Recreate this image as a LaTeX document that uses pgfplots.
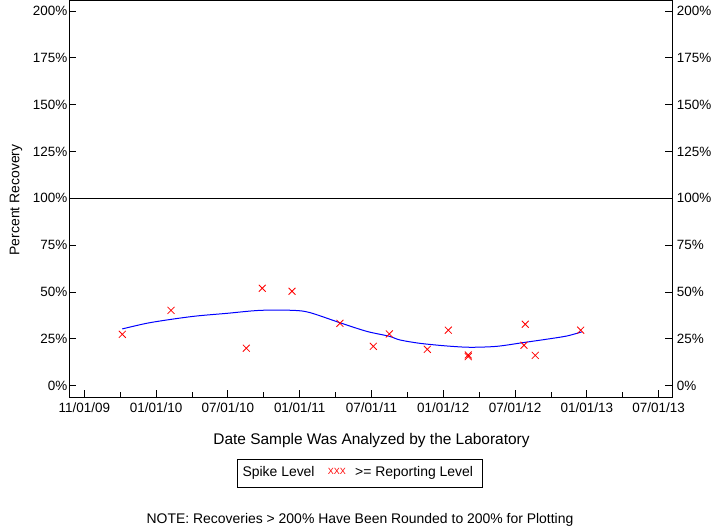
\documentclass[border=0pt]{standalone}
\usepackage{fontspec}
\setmainfont{Liberation Sans}
\usepackage{pgfplots}
\pgfplotsset{compat=1.18}
\begin{document}
\begin{tikzpicture}[x=1bp,y=1bp]
\useasboundingbox (0,0) rectangle (720,528);
\pgfplotsset{
  common/.style={
    at={(69.3bp,130.7bp)}, anchor=south west,
    scale only axis, width=603bp, height=396.8bp,
    xmin=-0.209, xmax=8.19, ymin=-6.2, ymax=205.6,
    ytick={0,25,50,75,100,125,150,175,200},
    yticklabels={0\%,25\%,50\%,75\%,100\%,125\%,150\%,175\%,200\%},
    tick align=inside,
    major tick length=7bp, minor tick length=5bp,
    tick style={black, line width=0.8bp},
    axis line style={line width=0.9bp},
    ticklabel style={font=\fontsize{13.5}{13.5}\selectfont},
  }
}
\begin{axis}[common,
  xtick={0,1,2,3,4,5,6,7,8},
  xticklabels={11/01/09,01/01/10,07/01/10,01/01/11,07/01/11,01/01/12,07/01/12,01/01/13,07/01/13},
  minor x tick num=1,
  xtick pos=bottom, ytick pos=left,
  xticklabel style={yshift=-2bp},
  yticklabel style={xshift=1.5bp},
]
\addplot[black, line width=0.9bp] coordinates {(-0.209,100) (8.19,100)};
\addplot[blue, line width=1bp, smooth] coordinates {
(0.529,30.3) (0.869,33.3) (1.208,35.4) (1.565,37.2) (1.983,38.6) (2.447,40.2)
(2.911,40.2) (3.143,39.0) (3.561,33.6) (3.933,29.0) (4.244,26.4) (4.397,24.4)
(4.676,22.6) (5.047,21.2) (5.372,20.5) (5.744,21.0) (6.114,23.0) (6.440,24.8)
(6.719,26.5) (6.928,28.7)};
\addplot[red, only marks, mark=x, mark size=4.9bp, mark options={line width=0.8bp}] coordinates {
(0.529,27.4) (1.208,40.2) (2.256,20.0) (2.479,52.0) (2.893,50.4) (3.561,33.3)
(4.025,21.0) (4.248,27.6) (4.777,19.4) (5.070,29.6) (5.348,16.4) (5.348,15.5)
(6.124,21.6) (6.142,32.8) (6.281,16.2) (6.914,29.6)};
\end{axis}
\begin{axis}[common,
  hide x axis, axis line style={draw=none},
  ytick pos=right, yticklabel pos=right,
  yticklabel style={xshift=1bp},
]
\end{axis}
\node[font=\fontsize{15.5}{15.5}\selectfont] at (371.5,87.3) {Date Sample Was Analyzed by the Laboratory};
\node[draw, line width=0.9bp, minimum width=245bp, minimum height=28bp, inner sep=0pt] at (359.8,54.7) {};
\node[font=\fontsize{14}{14}\selectfont, anchor=west, inner sep=0pt] at (242.3,54.7) {Spike Level};
\node[font=\fontsize{9}{9}\selectfont, text=red, anchor=west, inner sep=0pt] at (327.7,57) {XXX};
\node[font=\fontsize{14}{14}\selectfont, anchor=west, inner sep=0pt] at (355,54.7) {>= Reporting Level};
\node[font=\fontsize{14}{14}\selectfont] at (360,8) {NOTE: Recoveries > 200\% Have Been Rounded to 200\% for Plotting};
\node[font=\fontsize{14}{14}\selectfont, rotate=90] at (16,328) {Percent Recovery};
\end{tikzpicture}
\end{document}
